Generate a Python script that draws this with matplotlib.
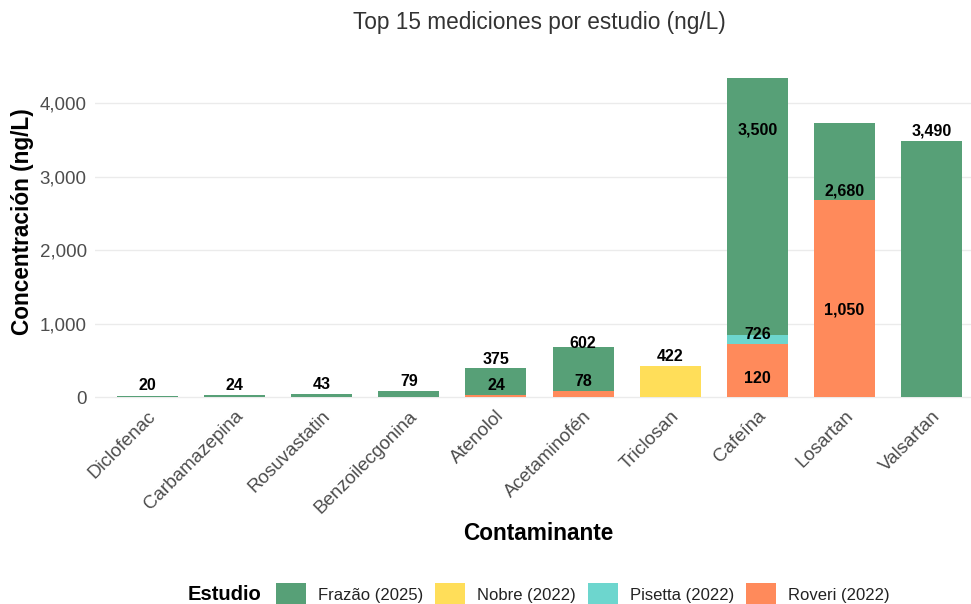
import matplotlib
matplotlib.use("Agg")
import matplotlib.pyplot as plt
from matplotlib.patches import Patch
from matplotlib.ticker import FuncFormatter
import numpy as np

plt.rcParams["font.family"] = ["Liberation Sans", "DejaVu Sans"]

# data
contaminantes = ["Diclofenac", "Carbamazepina", "Rosuvastatin", "Benzoilecgonina",
                 "Atenolol", "Acetaminofén", "Triclosan", "Cafeína", "Losartan", "Valsartan"]
estudios = ["Frazão (2025)", "Nobre (2022)", "Pisetta (2022)", "Roveri (2022)"]
frazao = [20, 24, 43, 79, 375, 602, 0, 3500, 1050, 3490]
nobre = [0, 0, 0, 0, 0, 0, 422, 0, 0, 0]
pisetta = [0, 0, 0, 0, 0, 0, 0, 120, 0, 0]
roveri = [0, 0, 0, 0, 24, 78, 0, 726, 2680, 0]

colores = {
    "Frazão (2025)": "#57A077",
    "Nobre (2022)": "#FFDE59",
    "Pisetta (2022)": "#6DD6CE",
    "Roveri (2022)": "#FF8A5B",
}

fig = plt.figure(figsize=(9.71, 6.04), dpi=100)
ax = fig.add_axes([95 / 971, 191 / 604, 876 / 971, 351 / 604])

x = np.arange(len(contaminantes))
series = {"Frazão (2025)": frazao, "Nobre (2022)": nobre,
          "Pisetta (2022)": pisetta, "Roveri (2022)": roveri}

# ggplot-style stacking: last level at the bottom
bottom = np.zeros(len(x))
for est in reversed(estudios):
    vals = np.array(series[est], dtype=float)
    ax.bar(x, vals, width=0.7, bottom=bottom, color=colores[est], linewidth=0, zorder=2)
    bottom += vals

# labels sit at each raw value, not the stacked position
for est in estudios:
    for xi, v in zip(x, series[est]):
        if v > 0:
            ax.annotate(f"{v:,}", (xi, v), xytext=(0, 1.5), textcoords="offset points",
                        ha="center", va="bottom", fontsize=11.5, fontweight="bold",
                        color="black", zorder=3)

total = bottom.max()
ax.set_ylim(-total * 0.05, total * 1.05)
ax.set_xlim(-0.6, 9.45)
ax.set_yticks([0, 1000, 2000, 3000, 4000])
ax.yaxis.set_major_formatter(FuncFormatter(lambda v, p: f"{int(v):,}"))
ax.grid(axis="y", color="#EBEBEB", linewidth=1, zorder=0)
ax.set_xticks(x)
ax.set_xticklabels(contaminantes, rotation=45, ha="right", va="top", rotation_mode="anchor")
ax.tick_params(axis="both", length=0, labelsize=13.5, labelcolor="#4D4D4D")
ax.tick_params(axis="x", pad=-4)
ax.tick_params(axis="y", pad=6)
for s in ax.spines.values():
    s.set_visible(False)

ax.set_ylabel("Concentración (ng/L)", fontsize=16.3, fontweight="bold")
ax.yaxis.set_label_coords((34 - 95) / 876, 0.544)
fig.text(538 / 971, 1 - 533 / 604, "Contaminante", ha="center", va="center",
         fontsize=16.3, fontweight="bold")
fig.text(539 / 971, 1 - 22 / 604, "Top 15 mediciones por estudio (ng/L)",
         ha="center", va="center", fontsize=16.3, color="#333333")

fig.text(188 / 971, 1 - 594 / 604, "Estudio", ha="left", va="center",
         fontsize=14.5, fontweight="bold")
handles = [Patch(facecolor=colores[e], edgecolor="none") for e in estudios]
fig.legend(handles, estudios, loc="center left", bbox_to_anchor=(268 / 971, 1 - 595 / 604),
           ncol=4, frameon=False, fontsize=12, handlelength=1.8, handleheight=1.9,
           columnspacing=0.7, handletextpad=0.72, borderpad=0, labelcolor="#222222")

fig.savefig("out.png", dpi=100)
